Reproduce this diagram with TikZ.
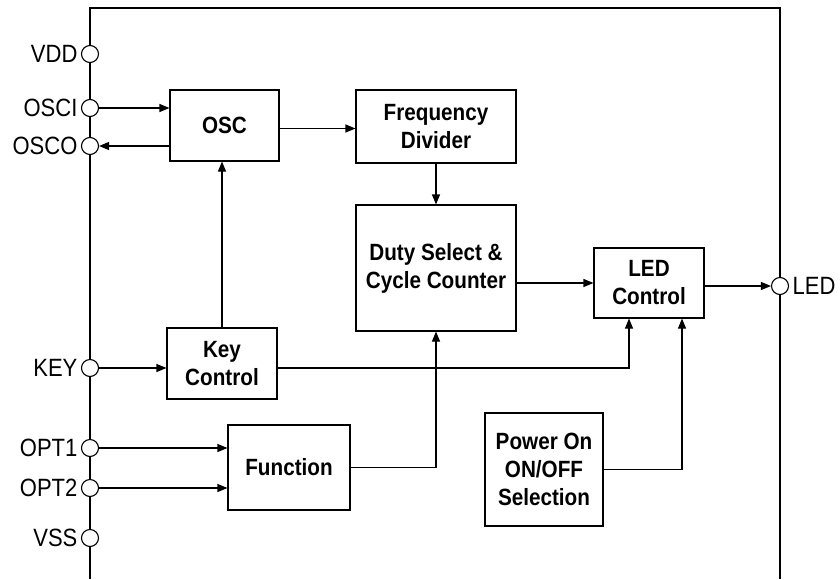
\documentclass[tikz,border=0pt]{standalone}
\usepackage{fontspec}
\setmainfont{Liberation Sans}[FakeStretch=0.88]
\usetikzlibrary{arrows.meta}

\begin{document}
\begin{tikzpicture}[x=1pt,y=-1pt,line width=1.1pt,
  >={Triangle[length=10pt,width=8pt]},
  pin/.style={shape=circle,draw,fill=white,minimum size=17pt,inner sep=0pt},
  block/.style={shape=rectangle,draw,align=center,inner sep=0pt,
    font=\fontsize{23.5}{28}\selectfont\bfseries},
  every label/.style={font=\fontsize{25}{28}\selectfont,inner sep=1pt}]
\useasboundingbox (0,0) rectangle (840,579);
% chip outline
\draw (90,579) -- (90,8) -- (780,8) -- (780,579);
% pins
\node (vdd)  at (90,54)   [pin,label={[label distance=2pt]left:VDD}] {};
\node (osci) at (90,108)  [pin,label={[label distance=2pt]left:OSCI}] {};
\node (osco) at (90,146)  [pin,label={[label distance=2pt]left:OSCO}] {};
\node (keyp) at (90,368)  [pin,label={[label distance=2pt]left:KEY}] {};
\node (opt1) at (90,448)  [pin,label={[label distance=2pt]left:OPT1}] {};
\node (opt2) at (90,488)  [pin,label={[label distance=2pt]left:OPT2}] {};
\node (vss)  at (90,538)  [pin,label={[label distance=2pt]left:VSS}] {};
\node (ledp) at (780,286) [pin,label={[label distance=2pt]right:LED}] {};
% blocks
\node (osc)  at (224.5,125.5) [block,minimum width=109pt,minimum height=71pt] {OSC};
\node (freq) at (436,126.5)   [block,minimum width=160pt,minimum height=73pt] {Frequency\\Divider};
\node (duty) at (436,268)     [block,minimum width=160pt,minimum height=126pt] {Duty Select \&\\Cycle Counter};
\node (key)  at (222,363.5)   [block,minimum width=110pt,minimum height=71pt] {Key\\Control};
\node (ledc) at (649,283)     [block,minimum width=110pt,minimum height=70pt] {LED\\Control};
\node (func) at (289,467.5)   [block,minimum width=122pt,minimum height=85pt] {Function};
\node (pwr)  at (544,469.5)   [block,minimum width=118pt,minimum height=113pt] {Power On\\ON/OFF\\Selection};
% connections
\draw [->] (osci) -- (osci -| osc.west);
\draw [->] (osc.west |- osco) -- (osco);
\draw [->] ([yshift=-3pt]osc.east) -- ([yshift=-3pt]osc.east -| freq.west);
\draw [->] (freq) -- (duty);
\draw [->] (key.north) -- (key.north |- osc.south);
\draw [->] (keyp) -- (keyp -| key.west);
\draw [->] (key.east |- keyp) -| ([xshift=-20pt]ledc.south);
\draw [->] (duty.east |- ledc) -- (ledc.west);
\draw [->] (ledc.east |- ledp) -- (ledp);
\draw [->] (func) -| (duty.south);
\draw [->] (opt1) -- (opt1 -| func.west);
\draw [->] (opt2) -- (opt2 -| func.west);
\draw [->] (pwr) -| ([xshift=33pt]ledc.south);
\end{tikzpicture}
\end{document}
